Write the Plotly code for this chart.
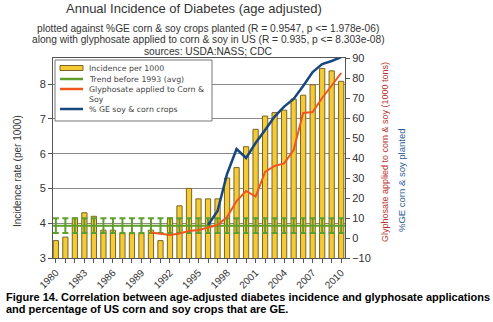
import plotly.graph_objects as go

# ---- data -------------------------------------------------------------
years = list(range(1980, 2011))

# age-adjusted diabetes incidence (per 1000)
incidence = [3.5, 3.6, 4.15, 4.3, 4.2, 3.8, 3.8, 3.7, 3.7, 3.7, 3.8, 3.5, 4.15,
             4.5, 5.0, 4.7, 4.7, 4.7, 5.3, 5.6, 6.2, 6.7, 7.08, 7.18, 7.25,
             7.57, 7.68, 7.98, 8.45, 8.38, 8.08]

# average incidence before 1993 and its spread
trend_mean = 3.93
trend_sd = 0.21

# glyphosate applied to corn & soy (1000 tons)
gly_years = list(range(1990, 2011))
glyphosate = [2.7, 2.0, 1.5, 2.3, 3.5, 4.0, 5.3, 6.5, 10.5, 18.5, 23.5, 20.7,
              33.0, 36.0, 37.3, 44.0, 62.5, 63.0, 70.0, 76.0, 82.5]

# % GE corn & soy planted
ge_years = list(range(1996, 2011))
ge_pct = [6.5, 13.5, 32.0, 44.5, 40.0, 47.5, 54.0, 60.7, 65.7, 69.5, 76.0,
          83.0, 87.0, 88.5, 90.5]

x_range = [1979.7, 2010.4]
y_left_range = [3, 8.75]
y_right_range = [-10, 90]

title = "Annual Incidence of Diabetes (age adjusted)"
subtitle = ["plotted against %GE corn &amp; soy crops planted (R = 0.9547, p &lt;= 1.978e-06)",
            "along with glyphosate applied to corn &amp; soy in US (R = 0.935, p &lt;= 8.303e-08)",
            "sources: USDA:NASS; CDC"]
caption = ["Figure 14. Correlation between age-adjusted diabetes incidence and glyphosate applications",
           "and percentage of US corn and soy crops that are GE."]

names = ["Incidence per 1000", "Trend before 1993 (avg)",
         "Glyphosate applied to Corn &amp;<br>Soy", "% GE soy &amp; corn crops"]

# ---- styles / geometry ------------------------------------------------
TXT = "#333333"
FONT = "Liberation Sans, Arial, sans-serif"
BAR_FILL = "#f4cb36"
BAR_EDGE = "#7a6420"
GREEN = "#5f9e2a"
ORANGE = "#f0561e"
BLUE = "#17477e"
RED_TITLE = "#b8332d"
BLUE_TITLE = "#2c5c94"

W, H = 493, 322
ML, MR, MT, MB = 53, 148, 58, 64
PW, PH = W - ML - MR, H - MT - MB


def px(x):
    """pixel column -> paper x"""
    return (x - ML) / PW


def py(y):
    """pixel row -> paper y"""
    return (H - MB - y) / PH


def note(text, x, y, size, color=TXT, angle=0, xanchor="center",
         yanchor="middle", family=FONT, align="center"):
    return dict(text=text, x=px(x), y=py(y), xref="paper", yref="paper",
                xanchor=xanchor, yanchor=yanchor, textangle=angle,
                align=align, showarrow=False,
                font=dict(size=size, color=color, family=family))


fig = go.Figure()

fig.add_trace(go.Bar(
    x=years, y=incidence, name=names[0],
    marker=dict(color=BAR_FILL, line=dict(color=BAR_EDGE, width=1)),
    yaxis="y",
))

# pre-1993 average drawn across the full span, with its spread at each year
fig.add_trace(go.Scatter(
    x=x_range, y=[trend_mean, trend_mean], mode="lines",
    name=names[1], line=dict(color=GREEN, width=2), yaxis="y",
))
fig.add_trace(go.Scatter(
    x=years, y=[trend_mean] * len(years), mode="markers",
    marker=dict(size=1, color=GREEN), hoverinfo="skip",
    error_y=dict(type="constant", value=trend_sd, color=GREEN,
                 thickness=2, width=3),
    yaxis="y",
))

fig.add_trace(go.Scatter(
    x=gly_years, y=glyphosate, mode="lines", name=names[2],
    line=dict(color=ORANGE, width=2), yaxis="y2",
))
fig.add_trace(go.Scatter(
    x=ge_years, y=ge_pct, mode="lines", name=names[3],
    line=dict(color=BLUE, width=2.5), yaxis="y2",
))

annotations = [note(title, 194, 9, 13)]
for i, line in enumerate(subtitle):
    annotations.append(note(line, 208, 29 + i * 11, 10.2))
for i, line in enumerate(caption):
    annotations.append(note("<b>" + line + "</b>", 4, 297 + i * 12, 11,
                            color="#000", xanchor="left", align="left"))
annotations += [
    note("Incidence rate (per 1000)", 17, 171, 10, angle=-90),
    note("Glyphosate applied to corn &amp; soy (1000 tons)", 385, 152, 9,
         color=RED_TITLE, angle=-90),
    note("%GE corn &amp; soy planted", 401, 180, 9.5, color=BLUE_TITLE,
         angle=-90),
]

# compact legend box in the upper-left corner of the plot
shapes = [dict(type="rect", xref="paper", yref="paper", layer="above",
               x0=px(55), x1=px(212), y0=py(121), y1=py(60),
               fillcolor="white", line=dict(color="#777", width=1))]
legend_rows = [68, 79, 89, 109]
legend_colors = [BAR_FILL, GREEN, ORANGE, BLUE]
for i, (row, name, col) in enumerate(zip(legend_rows, names, legend_colors)):
    if i == 0:
        shapes.append(dict(type="rect", xref="paper", yref="paper",
                           layer="above", x0=px(60), x1=px(83),
                           y0=py(row + 2.5), y1=py(row - 2.5),
                           fillcolor=col, line=dict(color=BAR_EDGE, width=1)))
    else:
        shapes.append(dict(type="line", xref="paper", yref="paper",
                           layer="above", x0=px(60), x1=px(83),
                           y0=py(row), y1=py(row),
                           line=dict(color=col, width=2.5)))
    annotations.append(note(name, 87, row - 6, 7.8, color="#444",
                            xanchor="left", yanchor="top", align="left",
                            family="DejaVu Sans"))

fig.update_layout(
    width=W, height=H,
    margin=dict(l=ML, r=MR, t=MT, b=MB, autoexpand=False),
    paper_bgcolor="white", plot_bgcolor="white",
    bargap=0.45,
    showlegend=False,
    xaxis=dict(range=x_range, tick0=1980, dtick=3, tickangle=-45,
               ticks="outside", ticklen=4, tickcolor="#555",
               minor=dict(dtick=1, ticks="outside", ticklen=4, tickcolor="#555"),
               showline=True, linecolor="#555", linewidth=1, mirror=True,
               showgrid=False, zeroline=False, automargin=False,
               tickfont=dict(size=10, color=TXT, family=FONT)),
    yaxis=dict(range=y_left_range, tickvals=[3, 4, 5, 6, 7, 8],
               ticks="outside", ticklen=4, tickcolor="#555",
               showline=True, linecolor="#555", linewidth=1,
               showgrid=True, gridcolor="#8a8a8a", gridwidth=1,
               zeroline=False, automargin=False,
               tickfont=dict(size=11, color=TXT, family=FONT)),
    yaxis2=dict(range=y_right_range, dtick=10, overlaying="y", side="right",
                ticks="outside", ticklen=4, tickcolor="#555",
                showline=True, linecolor="#555", linewidth=1,
                showgrid=False, zeroline=False, automargin=False,
                tickfont=dict(size=11, color=TXT, family=FONT)),
    annotations=annotations,
    shapes=shapes,
)

fig.write_html("out.html")
